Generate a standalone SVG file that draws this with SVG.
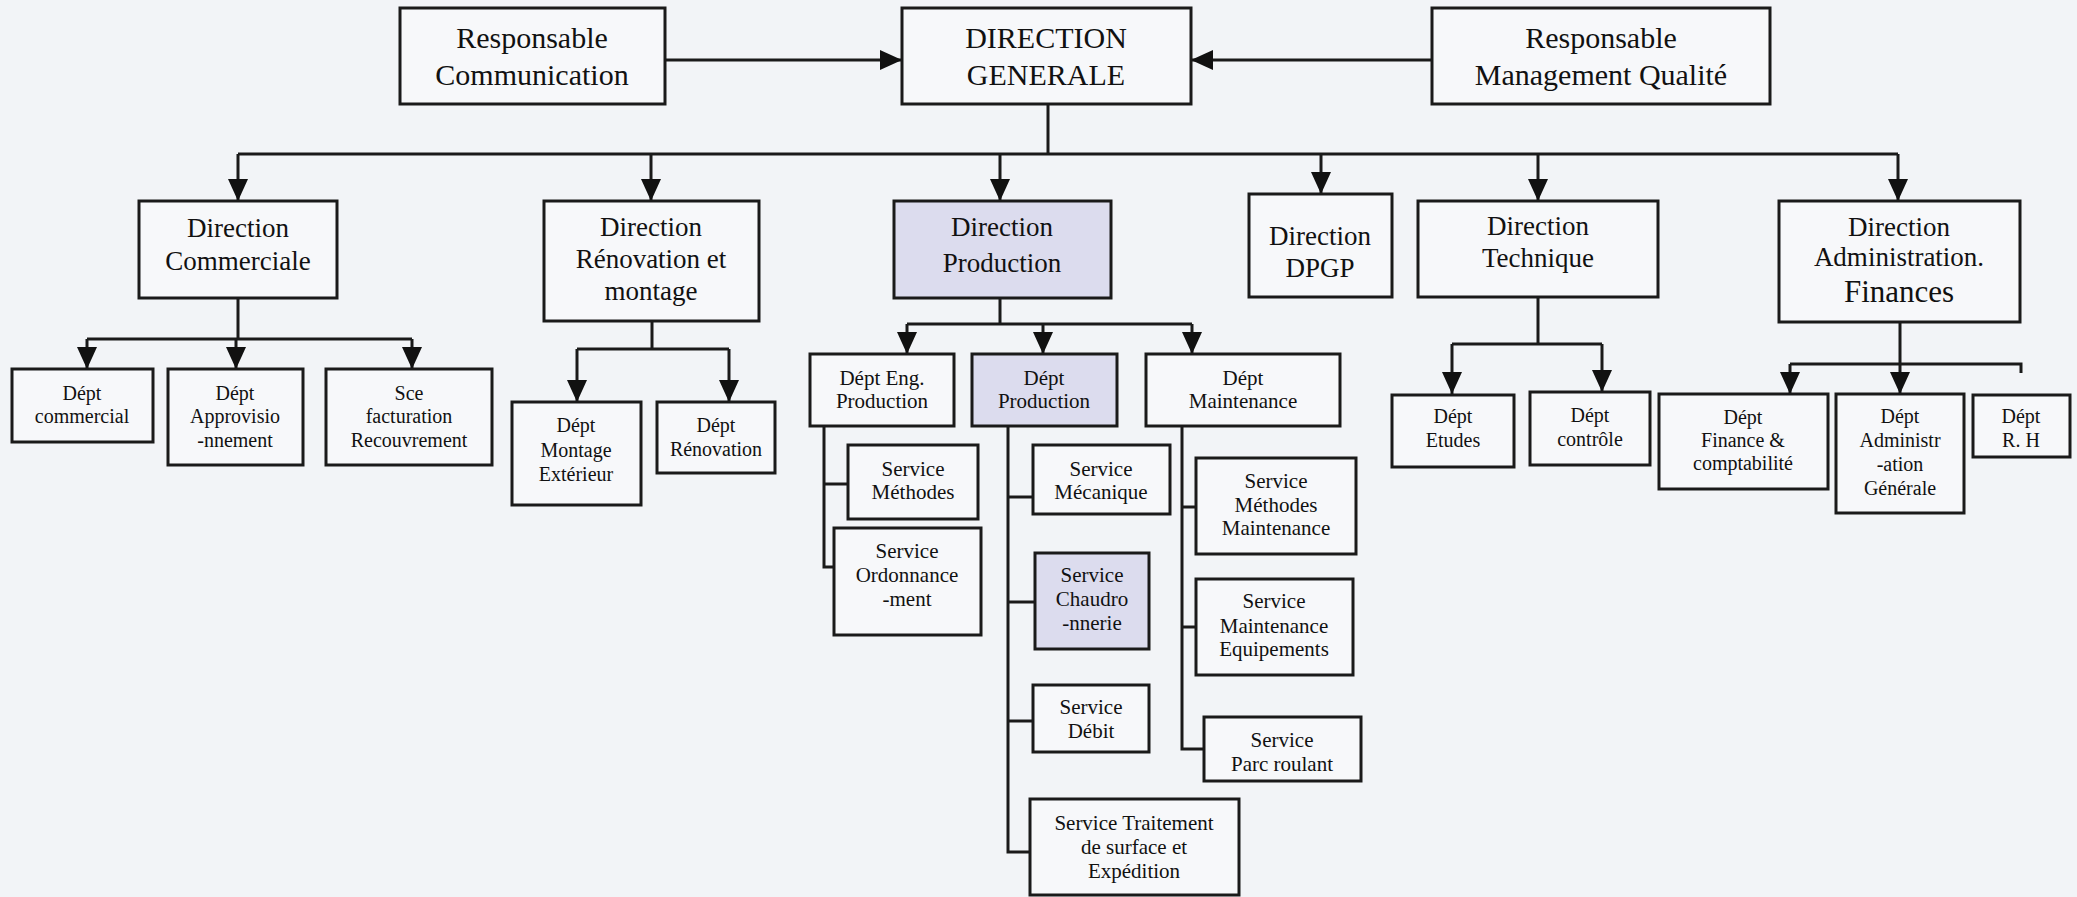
<svg xmlns="http://www.w3.org/2000/svg" width="2077" height="897" viewBox="0 0 2077 897">
<style>
.bg{fill:#f2f4f7}
.box{fill:#f7f8fa;stroke:#1a1a1a;stroke-width:3}
.hl{fill:#dcdcee;stroke:#1a1a1a;stroke-width:3}
.ln{fill:none;stroke:#1a1a1a;stroke-width:3}
.ar{fill:none;stroke:#1a1a1a;stroke-width:3;marker-end:url(#ah)}
text{font-family:"Liberation Serif","Times New Roman",serif;fill:#111;text-anchor:middle}
.t1{font-size:30px}
.t2{font-size:27px}
.t3{font-size:20px}
.t4{font-size:21px}
</style>
<defs>
<marker id="ah" markerUnits="userSpaceOnUse" markerWidth="24" markerHeight="22" refX="22" refY="10" orient="auto">
<path d="M0,0 L22,10 L0,20 z" fill="#111"/>
</marker>
</defs>
<rect class="bg" x="0" y="0" width="2077" height="897"/>

<g id="connectors">
<line class="ar" x1="665" y1="60" x2="902" y2="60"/>
<line class="ar" x1="1432" y1="60" x2="1191" y2="60"/>
<line class="ln" x1="1048" y1="104" x2="1048" y2="154"/>
<line class="ln" x1="238" y1="154" x2="1898" y2="154"/>
<line class="ar" x1="238" y1="154" x2="238" y2="201"/>
<line class="ar" x1="651" y1="154" x2="651" y2="201"/>
<line class="ar" x1="1000" y1="154" x2="1000" y2="201"/>
<line class="ar" x1="1321" y1="154" x2="1321" y2="194"/>
<line class="ar" x1="1538" y1="154" x2="1538" y2="201"/>
<line class="ar" x1="1898" y1="154" x2="1898" y2="201"/>

<line class="ln" x1="238" y1="298" x2="238" y2="339"/>
<line class="ln" x1="87" y1="339" x2="412" y2="339"/>
<line class="ar" x1="87" y1="339" x2="87" y2="369"/>
<line class="ar" x1="236" y1="339" x2="236" y2="369"/>
<line class="ar" x1="412" y1="339" x2="412" y2="369"/>

<line class="ln" x1="652" y1="321" x2="652" y2="349"/>
<line class="ln" x1="577" y1="349" x2="729" y2="349"/>
<line class="ar" x1="577" y1="349" x2="577" y2="402"/>
<line class="ar" x1="729" y1="349" x2="729" y2="402"/>

<line class="ln" x1="1000" y1="298" x2="1000" y2="324"/>
<line class="ln" x1="907" y1="324" x2="1192" y2="324"/>
<line class="ar" x1="907" y1="324" x2="907" y2="354"/>
<line class="ar" x1="1043" y1="324" x2="1043" y2="354"/>
<line class="ar" x1="1192" y1="324" x2="1192" y2="354"/>

<polyline class="ln" points="824,426 824,567 834,567"/>
<line class="ln" x1="824" y1="484" x2="848" y2="484"/>

<polyline class="ln" points="1008,426 1008,852 1030,852"/>
<line class="ln" x1="1008" y1="497" x2="1033" y2="497"/>
<line class="ln" x1="1008" y1="602" x2="1035" y2="602"/>
<line class="ln" x1="1008" y1="721" x2="1033" y2="721"/>

<polyline class="ln" points="1182,426 1182,749 1204,749"/>
<line class="ln" x1="1182" y1="507" x2="1196" y2="507"/>
<line class="ln" x1="1182" y1="627" x2="1196" y2="627"/>

<line class="ln" x1="1538" y1="297" x2="1538" y2="344"/>
<line class="ln" x1="1452" y1="344" x2="1602" y2="344"/>
<line class="ar" x1="1452" y1="344" x2="1452" y2="394"/>
<line class="ar" x1="1602" y1="344" x2="1602" y2="392"/>

<line class="ln" x1="1900" y1="322" x2="1900" y2="364"/>
<polyline class="ln" points="1790,364 2021,364 2021,373"/>
<line class="ar" x1="1790" y1="364" x2="1790" y2="394"/>
<line class="ar" x1="1900" y1="364" x2="1900" y2="394"/>
</g>

<g id="resp-communication"><rect class="box" x="400" y="8" width="265" height="96"/>
<text class="t1" x="532" y="48">Responsable</text><text class="t1" x="532" y="85">Communication</text></g>
<g id="direction-generale"><rect class="box" x="902" y="8" width="289" height="96"/>
<text class="t1" x="1046" y="48">DIRECTION</text><text class="t1" x="1046" y="85">GENERALE</text></g>
<g id="resp-qualite"><rect class="box" x="1432" y="8" width="338" height="96"/>
<text class="t1" x="1601" y="48">Responsable</text><text class="t1" x="1601" y="85">Management Qualité</text></g>

<g id="dir-commerciale"><rect class="box" x="139" y="201" width="198" height="97"/>
<text class="t2" x="238" y="237">Direction</text><text class="t2" x="238" y="270">Commerciale</text></g>
<g id="dir-renovation"><rect class="box" x="544" y="201" width="215" height="120"/>
<text class="t2" x="651" y="236">Direction</text><text class="t2" x="651" y="268">Rénovation et</text><text class="t2" x="651" y="300">montage</text></g>
<g id="dir-production"><rect class="hl" x="894" y="201" width="217" height="97"/>
<text class="t2" x="1002" y="236">Direction</text><text class="t2" x="1002" y="272">Production</text></g>
<g id="dir-dpgp"><rect class="box" x="1249" y="194" width="143" height="103"/>
<text class="t2" x="1320" y="245">Direction</text><text class="t2" x="1320" y="277">DPGP</text></g>
<g id="dir-technique"><rect class="box" x="1418" y="201" width="240" height="96"/>
<text class="t2" x="1538" y="235">Direction</text><text class="t2" x="1538" y="267">Technique</text></g>
<g id="dir-admin"><rect class="box" x="1779" y="201" width="241" height="121"/>
<text class="t2" x="1899" y="236">Direction</text><text class="t2" x="1899" y="266">Administration.</text><text x="1899" y="302" style="font-size:31px">Finances</text></g>

<g id="dept-commercial"><rect class="box" x="12" y="369" width="141" height="73"/>
<text class="t3" x="82" y="400">Dépt</text><text class="t3" x="82" y="423">commercial</text></g>
<g id="dept-appro"><rect class="box" x="168" y="369" width="135" height="96"/>
<text class="t3" x="235" y="400">Dépt</text><text class="t3" x="235" y="423">Approvisio</text><text class="t3" x="235" y="447">-nnement</text></g>
<g id="sce-facturation"><rect class="box" x="326" y="369" width="166" height="96"/>
<text class="t3" x="409" y="400">Sce</text><text class="t3" x="409" y="423">facturation</text><text class="t3" x="409" y="447">Recouvrement</text></g>

<g id="dept-montage"><rect class="box" x="512" y="402" width="129" height="103"/>
<text class="t3" x="576" y="432">Dépt</text><text class="t3" x="576" y="457">Montage</text><text class="t3" x="576" y="481">Extérieur</text></g>
<g id="dept-renovation"><rect class="box" x="657" y="402" width="118" height="71"/>
<text class="t3" x="716" y="432">Dépt</text><text class="t3" x="716" y="456">Rénovation</text></g>

<g id="dept-eng"><rect class="box" x="810" y="354" width="144" height="72"/>
<text class="t4" x="882" y="385">Dépt Eng.</text><text class="t4" x="882" y="408">Production</text></g>
<g id="dept-production"><rect class="hl" x="972" y="354" width="145" height="72"/>
<text class="t4" x="1044" y="385">Dépt</text><text class="t4" x="1044" y="408">Production</text></g>
<g id="dept-maintenance"><rect class="box" x="1146" y="354" width="194" height="72"/>
<text class="t4" x="1243" y="385">Dépt</text><text class="t4" x="1243" y="408">Maintenance</text></g>

<g id="srv-methodes"><rect class="box" x="848" y="445" width="130" height="74"/>
<text class="t4" x="913" y="476">Service</text><text class="t4" x="913" y="499">Méthodes</text></g>
<g id="srv-ordonnancement"><rect class="box" x="834" y="528" width="147" height="107"/>
<text class="t4" x="907" y="558">Service</text><text class="t4" x="907" y="582">Ordonnance</text><text class="t4" x="907" y="606">-ment</text></g>

<g id="srv-mecanique"><rect class="box" x="1033" y="445" width="137" height="69"/>
<text class="t4" x="1101" y="476">Service</text><text class="t4" x="1101" y="499">Mécanique</text></g>
<g id="srv-chaudronnerie"><rect class="hl" x="1035" y="553" width="114" height="96"/>
<text class="t4" x="1092" y="582">Service</text><text class="t4" x="1092" y="606">Chaudro</text><text class="t4" x="1092" y="630">-nnerie</text></g>
<g id="srv-debit"><rect class="box" x="1033" y="685" width="116" height="67"/>
<text class="t4" x="1091" y="714">Service</text><text class="t4" x="1091" y="738">Débit</text></g>
<g id="srv-traitement"><rect class="box" x="1030" y="799" width="209" height="96"/>
<text class="t4" x="1134" y="830">Service Traitement</text><text class="t4" x="1134" y="854">de surface et</text><text class="t4" x="1134" y="878">Expédition</text></g>

<g id="srv-methodes-maint"><rect class="box" x="1196" y="458" width="160" height="96"/>
<text class="t4" x="1276" y="488">Service</text><text class="t4" x="1276" y="512">Méthodes</text><text class="t4" x="1276" y="535">Maintenance</text></g>
<g id="srv-maint-equip"><rect class="box" x="1196" y="579" width="157" height="96"/>
<text class="t4" x="1274" y="608">Service</text><text class="t4" x="1274" y="633">Maintenance</text><text class="t4" x="1274" y="656">Equipements</text></g>
<g id="srv-parc"><rect class="box" x="1204" y="717" width="157" height="64"/>
<text class="t4" x="1282" y="747">Service</text><text class="t4" x="1282" y="771">Parc roulant</text></g>

<g id="dept-etudes"><rect class="box" x="1392" y="395" width="122" height="72"/>
<text class="t3" x="1453" y="423">Dépt</text><text class="t3" x="1453" y="447">Etudes</text></g>
<g id="dept-controle"><rect class="box" x="1530" y="392" width="120" height="73"/>
<text class="t3" x="1590" y="422">Dépt</text><text class="t3" x="1590" y="446">contrôle</text></g>

<g id="dept-finance"><rect class="box" x="1659" y="394" width="169" height="95"/>
<text class="t3" x="1743" y="424">Dépt</text><text class="t3" x="1743" y="447">Finance &amp;</text><text class="t3" x="1743" y="470">comptabilité</text></g>
<g id="dept-admin-gen"><rect class="box" x="1836" y="394" width="128" height="119"/>
<text class="t3" x="1900" y="423">Dépt</text><text class="t3" x="1900" y="447">Administr</text><text class="t3" x="1900" y="471">-ation</text><text class="t3" x="1900" y="495">Générale</text></g>
<g id="dept-rh"><rect class="box" x="1973" y="395" width="97" height="62"/>
<text class="t3" x="2021" y="423">Dépt</text><text class="t3" x="2021" y="447">R. H</text></g>
</svg>
